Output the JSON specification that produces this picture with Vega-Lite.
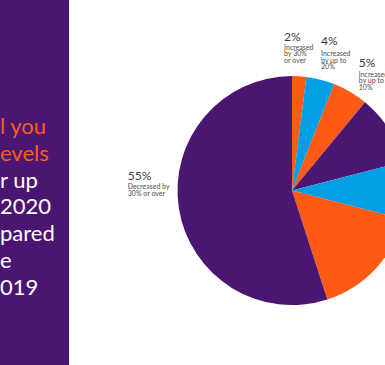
{
  "$schema": "https://vega.github.io/schema/vega-lite/v6.json",
  "padding": 0,
  "spacing": 0,
  "background": "white",
  "config": {"view": {"stroke": null}, "concat": {"spacing": 0}},
  "resolve": {"scale": {"color": "independent", "theta": "independent", "x": "independent", "y": "independent"}},
  "datasets": {
    "lines": [
      {"line": 1, "text": "l you", "tone": "accent"},
      {"line": 2, "text": "evels", "tone": "accent"},
      {"line": 3, "text": "r up", "tone": "plain"},
      {"line": 4, "text": " 2020", "tone": "plain"},
      {"line": 5, "text": "pared", "tone": "plain"},
      {"line": 6, "text": "e", "tone": "plain"},
      {"line": 7, "text": "019", "tone": "plain"}
    ],
    "slices": [
      {"idx": 1, "cat": "Increased by 30% or over", "share": 2, "pct": "2%", "desc": "Increased\nby 30%\nor over"},
      {"idx": 2, "cat": "Increased by up to 20%", "share": 4, "pct": "4%", "desc": "Increased\nby up to\n20%"},
      {"idx": 3, "cat": "Increased by up to 10%", "share": 5, "pct": "5%", "desc": "Increased\nby up to\n10%"},
      {"idx": 4, "cat": "Stayed the same", "share": 10, "pct": "10%", "desc": "Stayed the\nsame"},
      {"idx": 5, "cat": "Decreased by up to 10%", "share": 8, "pct": "8%", "desc": "Decreased by\nup to 10%"},
      {"idx": 6, "cat": "Decreased by up to 30%", "share": 16, "pct": "16%", "desc": "Decreased by\nup to 30%"},
      {"idx": 7, "cat": "Decreased by 30% or over", "share": 55, "pct": "55%", "desc": "Decreased by\n30% or over"}
    ]
  },
  "hconcat": [
    {
      "width": 69,
      "height": 365,
      "view": {"fill": "#4a1672", "stroke": null},
      "data": {"name": "lines"},
      "mark": {"type": "text", "align": "left", "baseline": "alphabetic", "font": "Lato", "fontSize": 22},
      "encoding": {
        "x": {"datum": 0, "type": "quantitative", "scale": {"domain": [0, 1]}, "axis": null},
        "y": {"field": "line", "type": "quantitative", "axis": null, "scale": {"domain": [-4, 9.62], "reverse": true, "nice": false, "zero": false}},
        "text": {"field": "text"},
        "color": {"field": "tone", "type": "nominal", "scale": {"domain": ["accent", "plain"], "range": ["#ff5a14", "#ffffff"]}, "legend": null}
      }
    },
    {
      "width": 446,
      "height": 381,
      "data": {"name": "slices"},
      "encoding": {
        "theta": {"field": "share", "type": "quantitative", "stack": true},
        "order": {"field": "idx", "type": "quantitative"}
      },
      "layer": [
        {
          "mark": {"type": "arc", "outerRadius": 114.5},
          "encoding": {
            "color": {"field": "cat", "type": "nominal", "legend": null,
              "scale": {"domain": ["Increased by 30% or over", "Increased by up to 20%", "Increased by up to 10%", "Stayed the same", "Decreased by up to 10%", "Decreased by up to 30%", "Decreased by 30% or over"],
                        "range": ["#ff5a14", "#009fe3", "#ff5a14", "#4a1672", "#009fe3", "#ff5a14", "#4a1672"]}}
          }
        },
        {
          "mark": {"type": "text", "align": "left", "baseline": "alphabetic", "font": "Lato", "fontSize": 12, "color": "#3a3a3a", "dx": -17, "dy": -5},
          "encoding": {"radius": {"value": 145}, "text": {"condition": {"test": "datum.idx === 1", "field": "pct"}, "value": ""}}
        },
        {
          "mark": {"type": "text", "align": "left", "baseline": "alphabetic", "font": "Lato", "fontSize": 7, "lineHeight": 6.7, "lineBreak": "\n", "color": "#4d4d4d", "dx": -17, "dy": 4},
          "encoding": {"radius": {"value": 145}, "text": {"condition": {"test": "datum.idx === 1", "field": "desc"}, "value": ""}}
        },
        {
          "mark": {"type": "text", "align": "left", "baseline": "alphabetic", "font": "Lato", "fontSize": 12, "color": "#3a3a3a", "dx": -7, "dy": -5},
          "encoding": {"radius": {"value": 145}, "text": {"condition": {"test": "datum.idx === 2", "field": "pct"}, "value": ""}}
        },
        {
          "mark": {"type": "text", "align": "left", "baseline": "alphabetic", "font": "Lato", "fontSize": 7, "lineHeight": 6.7, "lineBreak": "\n", "color": "#4d4d4d", "dx": -7, "dy": 6},
          "encoding": {"radius": {"value": 145}, "text": {"condition": {"test": "datum.idx === 2", "field": "desc"}, "value": ""}}
        },
        {
          "mark": {"type": "text", "align": "left", "baseline": "alphabetic", "font": "Lato", "fontSize": 12, "color": "#3a3a3a", "dx": -7, "dy": 1},
          "encoding": {"radius": {"value": 145}, "text": {"condition": {"test": "datum.idx === 3", "field": "pct"}, "value": ""}}
        },
        {
          "mark": {"type": "text", "align": "left", "baseline": "alphabetic", "font": "Lato", "fontSize": 7, "lineHeight": 6.7, "lineBreak": "\n", "color": "#4d4d4d", "dx": -7, "dy": 11},
          "encoding": {"radius": {"value": 145}, "text": {"condition": {"test": "datum.idx === 3", "field": "desc"}, "value": ""}}
        },
        {
          "mark": {"type": "text", "align": "left", "baseline": "alphabetic", "font": "Lato", "fontSize": 12, "color": "#3a3a3a", "dx": -21, "dy": -33},
          "encoding": {"radius": {"value": 145}, "text": {"condition": {"test": "datum.idx === 7", "field": "pct"}, "value": ""}}
        },
        {
          "mark": {"type": "text", "align": "left", "baseline": "alphabetic", "font": "Lato", "fontSize": 7, "lineHeight": 6.7, "lineBreak": "\n", "color": "#4d4d4d", "dx": -21, "dy": -24},
          "encoding": {"radius": {"value": 145}, "text": {"condition": {"test": "datum.idx === 7", "field": "desc"}, "value": ""}}
        }
      ]
    }
  ]
}
